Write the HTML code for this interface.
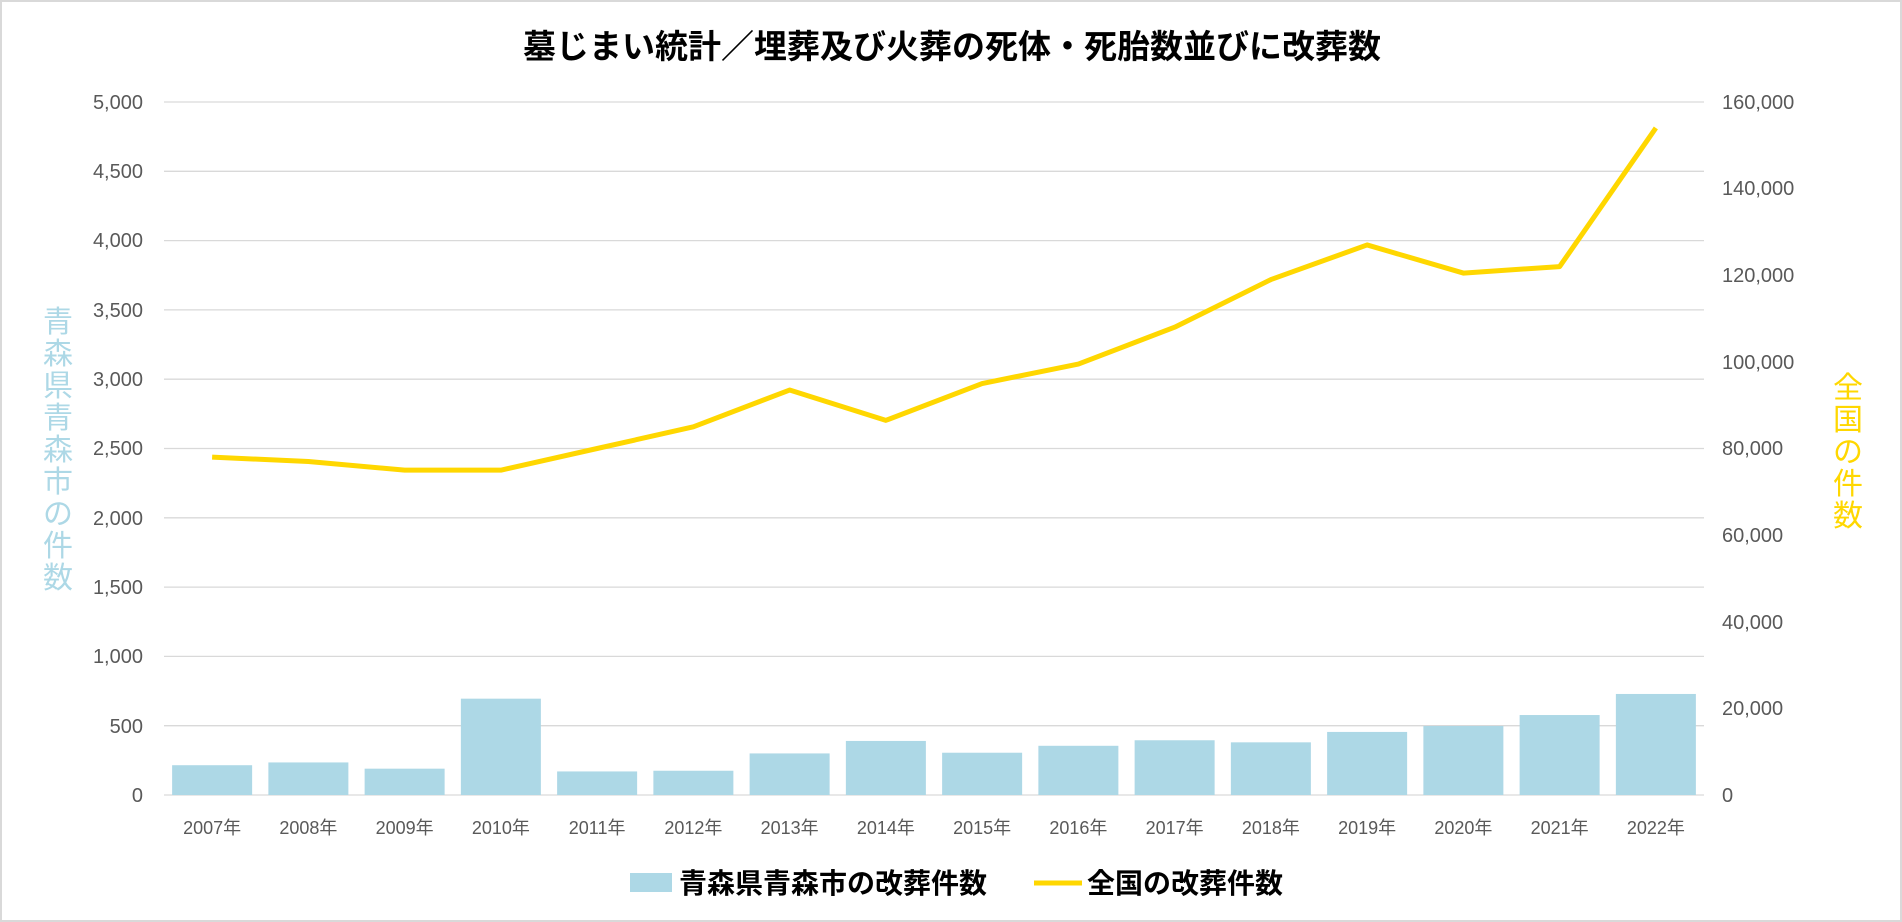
<!DOCTYPE html>
<html><head><meta charset="utf-8"><style>
html,body{margin:0;padding:0;background:#fff}
svg{display:block}
text{font-family:"Liberation Sans","Noto Sans CJK JP",sans-serif}
</style></head><body>
<svg width="1902" height="922" viewBox="0 0 1902 922" xmlns="http://www.w3.org/2000/svg">
<rect x="1" y="1" width="1900" height="920" fill="#fff" stroke="#d9d9d9" stroke-width="2"/>
<text x="952" y="58" text-anchor="middle" font-size="33" font-weight="bold" fill="#000">墓じまい統計／埋葬及び火葬の死体・死胎数並びに改葬数</text>
<g stroke="#d9d9d9" stroke-width="1.3">
<line x1="164" x2="1704" y1="102" y2="102"/><line x1="164" x2="1704" y1="171.3" y2="171.3"/>
<line x1="164" x2="1704" y1="240.6" y2="240.6"/><line x1="164" x2="1704" y1="309.9" y2="309.9"/>
<line x1="164" x2="1704" y1="379.2" y2="379.2"/><line x1="164" x2="1704" y1="448.5" y2="448.5"/>
<line x1="164" x2="1704" y1="517.8" y2="517.8"/><line x1="164" x2="1704" y1="587.1" y2="587.1"/>
<line x1="164" x2="1704" y1="656.4" y2="656.4"/><line x1="164" x2="1704" y1="725.7" y2="725.7"/>
<line x1="164" x2="1704" y1="795" y2="795"/>
</g>
<g font-size="20" fill="#595959" text-anchor="end">
<text x="143" y="109">5,000</text><text x="143" y="178">4,500</text><text x="143" y="247">4,000</text>
<text x="143" y="317">3,500</text><text x="143" y="386">3,000</text><text x="143" y="455">2,500</text>
<text x="143" y="525">2,000</text><text x="143" y="594">1,500</text><text x="143" y="663">1,000</text>
<text x="143" y="733">500</text><text x="143" y="802">0</text>
</g>
<g font-size="20" fill="#595959">
<text x="1722" y="109">160,000</text><text x="1722" y="195">140,000</text><text x="1722" y="282">120,000</text>
<text x="1722" y="369">100,000</text><text x="1722" y="455">80,000</text><text x="1722" y="542">60,000</text>
<text x="1722" y="629">40,000</text><text x="1722" y="715">20,000</text><text x="1722" y="802">0</text>
</g>
<g fill="#add8e6" id="bars"></g>
<polyline id="line" fill="none" stroke="#ffd700" stroke-width="5" stroke-linejoin="round" points=""/>
<g id="xl" font-size="18" fill="#595959" text-anchor="middle"></g>
<g font-size="30" fill="#add8e6" text-anchor="middle">
<text x="58" y="332">青</text><text x="58" y="364">森</text><text x="58" y="396">県</text><text x="58" y="428">青</text><text x="58" y="460">森</text><text x="58" y="492">市</text><text x="58" y="524">の</text><text x="58" y="556">件</text><text x="58" y="588">数</text>
</g>
<g font-size="30" fill="#ffd700" text-anchor="middle">
<text x="1848" y="398">全</text><text x="1848" y="430">国</text><text x="1848" y="462">の</text><text x="1848" y="494">件</text><text x="1848" y="526">数</text>
</g>
<rect x="630" y="873" width="42" height="19" fill="#add8e6"/>
<text x="679" y="893" font-size="28" font-weight="bold" fill="#000">青森県青森市の改葬件数</text>
<line x1="1034" x2="1082" y1="883" y2="883" stroke="#ffd700" stroke-width="5"/>
<text x="1087" y="893" font-size="28" font-weight="bold" fill="#000">全国の改葬件数</text>
<script>
var b=[215,235,190,695,170,175,300,390,305,355,395,380,455,498,577,729];
var l=[78000,77000,75000,75000,80000,85000,93500,86500,95000,99500,108000,119000,127000,120500,122000,154000];
var ns="http://www.w3.org/2000/svg",L=164,R=1704,cw=(R-L)/16,pts=[];
for(var i=0;i<16;i++){var cx=L+cw*(i+0.5);
var r=document.createElementNS(ns,"rect");var h=b[i]/500*69.3;
r.setAttribute("x",cx-40);r.setAttribute("width",80);r.setAttribute("y",795-h);r.setAttribute("height",h);
document.getElementById("bars").appendChild(r);
pts.push(cx+","+(795-l[i]/160000*693));
var t=document.createElementNS(ns,"text");t.setAttribute("x",cx);t.setAttribute("y",834);t.textContent=(2007+i)+"年";
document.getElementById("xl").appendChild(t);}
document.getElementById("line").setAttribute("points",pts.join(" "));
</script>
</svg>
</body></html>
